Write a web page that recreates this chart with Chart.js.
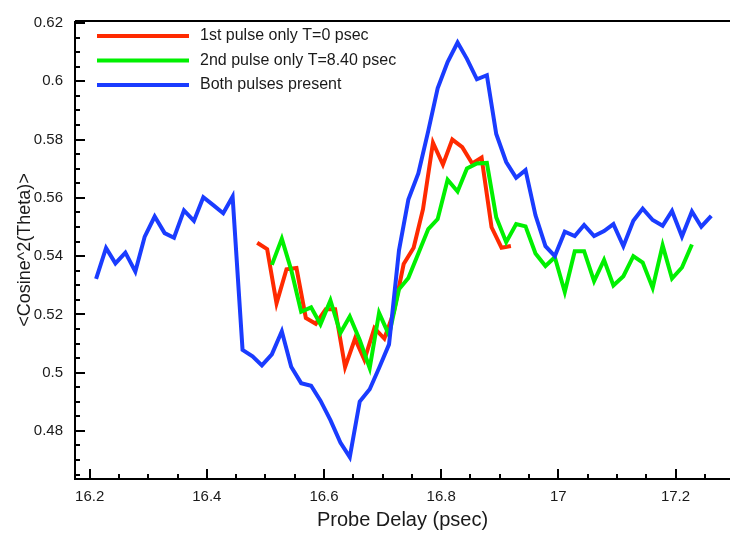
<!DOCTYPE html>
<html>
<head>
<meta charset="utf-8">
<script src="https://cdn.jsdelivr.net/npm/chart.js@4"></script>
<style>
  html, body { margin: 0; padding: 0; background: #fff; }
</style>
</head>
<body>
<canvas id="grafico" width="730" height="533"></canvas>
<script>
// probe delays (psec)
const delay = [16.211, 16.228, 16.244, 16.261, 16.278, 16.294, 16.311, 16.328, 16.344, 16.361,
               16.378, 16.394, 16.411, 16.428, 16.444, 16.461, 16.478, 16.494, 16.511, 16.528,
               16.544, 16.561, 16.578, 16.594, 16.611, 16.628, 16.644, 16.661, 16.678, 16.694,
               16.711, 16.728, 16.744, 16.761, 16.778, 16.794, 16.811, 16.828, 16.844, 16.861,
               16.878, 16.894, 16.911, 16.928, 16.944, 16.961, 16.978, 16.994, 17.011, 17.028,
               17.044, 17.061, 17.078, 17.094, 17.111, 17.128, 17.144, 17.161, 17.178, 17.194,
               17.211, 17.228, 17.244, 17.261];

const delayRed = [16.486, 16.503, 16.519, 16.536, 16.553, 16.569, 16.586, 16.603, 16.619, 16.636,
                  16.653, 16.669, 16.686, 16.703, 16.719, 16.736, 16.753, 16.769, 16.786, 16.803,
                  16.819, 16.836, 16.853, 16.869, 16.886, 16.903, 16.919];

const delayGreen = [16.511, 16.528, 16.544, 16.561, 16.578, 16.594, 16.611, 16.628, 16.644, 16.661,
                    16.678, 16.694, 16.711, 16.728, 16.744, 16.761, 16.778, 16.794, 16.811, 16.828,
                    16.844, 16.861, 16.878, 16.894, 16.911, 16.928, 16.944, 16.961, 16.978, 16.994,
                    17.011, 17.028, 17.044, 17.061, 17.078, 17.094, 17.111, 17.128, 17.144, 17.161,
                    17.178, 17.194, 17.211, 17.228];

const primerPulso = [0.5446, 0.5424, 0.5238, 0.5355, 0.5359, 0.5188, 0.5168, 0.5218, 0.5218, 0.5019,
                     0.5117, 0.5044, 0.5153, 0.5117, 0.5207, 0.5373, 0.5429, 0.5561, 0.5789, 0.5714,
                     0.5800, 0.5774, 0.5718, 0.5738, 0.5499, 0.5429, 0.5435];

const segundoPulso = [0.5370, 0.5460, 0.5353, 0.5209, 0.5224, 0.5166, 0.5248, 0.5136, 0.5193, 0.5112,
                      0.5016, 0.5205, 0.5129, 0.5286, 0.5325, 0.5409, 0.5493, 0.5527, 0.5662, 0.5622,
                      0.5701, 0.5718, 0.5720, 0.5533, 0.5448, 0.5510, 0.5502, 0.5409, 0.5366, 0.5396,
                      0.5277, 0.5417, 0.5417, 0.5314, 0.5387, 0.5299, 0.5331, 0.5400, 0.5378, 0.5291,
                      0.5437, 0.5323, 0.5361, 0.5440];

const ambosPulsos = [0.5322, 0.5428, 0.5375, 0.5412, 0.5347, 0.5467, 0.5536, 0.5479, 0.5463, 0.5557,
                     0.5521, 0.5602, 0.5575, 0.5547, 0.5604, 0.5078, 0.5056, 0.5025, 0.5063, 0.5142,
                     0.5020, 0.4964, 0.4955, 0.4904, 0.4837, 0.4760, 0.4710, 0.4901, 0.4943, 0.5016,
                     0.5097, 0.5420, 0.5594, 0.5684, 0.5830, 0.5976, 0.6066, 0.6133, 0.6077, 0.6007,
                     0.6021, 0.5819, 0.5723, 0.5669, 0.5695, 0.5540, 0.5434, 0.5400, 0.5484, 0.5469,
                     0.5507, 0.5469, 0.5486, 0.5510, 0.5434, 0.5521, 0.5563, 0.5524, 0.5504, 0.5555,
                     0.5467, 0.5553, 0.5501, 0.5538];

const etiquetas = ['1st pulse only T=0 psec', '2nd pulse only T=8.40 psec', 'Both pulses present'];

function puntos(xs, ys) {
    return xs.map((x, i) => ({ x: x, y: ys[i] }));
}

const fuente = '"Liberation Sans", Arial, Helvetica, sans-serif';
Chart.defaults.font.family = fuente;

// axes frame, inward ticks and the legend box inside the plot
const marco = {
    id: 'marco',
    afterDraw(chart) {
        const { ctx, chartArea: a, scales } = chart;
        const sx = scales.x, sy = scales.y;
        ctx.save();
        ctx.strokeStyle = '#000';
        ctx.lineWidth = 2;
        ctx.beginPath();
        ctx.moveTo(a.left, a.top); ctx.lineTo(a.right, a.top);
        ctx.moveTo(a.left, a.top); ctx.lineTo(a.left, a.bottom);
        ctx.lineTo(a.right, a.bottom);
        ctx.stroke();

        ctx.beginPath();
        for (let k = 0; k <= 22; k++) {
            const v = 16.2 + k * 0.05;
            const px = Math.round(sx.getPixelForValue(v));
            if (px > a.right) break;
            const len = k % 4 === 0 ? 10 : 5;
            ctx.moveTo(px, a.bottom); ctx.lineTo(px, a.bottom - len);
        }
        for (let k = 0; k <= 32; k++) {
            const v = 0.465 + k * 0.005;
            const py = Math.round(sy.getPixelForValue(v));
            if (py < a.top) break;
            const len = (k + 1) % 4 === 0 ? 10 : 5;
            ctx.moveTo(a.left, py); ctx.lineTo(a.left + len, py);
        }
        ctx.stroke();

        // legend
        ctx.font = '16px ' + fuente;
        ctx.textBaseline = 'middle';
        ctx.fillStyle = '#1a1a1a';
        chart.data.datasets.forEach((ds, i) => {
            const y = 36 + i * 24.5;
            ctx.strokeStyle = ds.borderColor;
            ctx.lineWidth = 4;
            ctx.beginPath();
            ctx.moveTo(97, y); ctx.lineTo(189, y);
            ctx.stroke();
            ctx.fillText(ds.label, 200, y);
        });
        ctx.restore();
    }
};

const ctx = document.getElementById('grafico').getContext('2d');

new Chart(ctx, {
    type: 'line',
    data: {
        datasets: [{
            label: etiquetas[0],
            data: puntos(delayRed, primerPulso),
            borderColor: '#ff2a00',
            order: 2
        }, {
            label: etiquetas[1],
            data: puntos(delayGreen, segundoPulso),
            borderColor: '#00f000',
            order: 1
        }, {
            label: etiquetas[2],
            data: puntos(delay, ambosPulsos),
            borderColor: '#1a3cff',
            order: 0
        }]
    },
    options: {
        responsive: false,
        animation: false,
        layout: { padding: { top: 13, right: -10, left: 0, bottom: 0 } },
        elements: {
            line: { borderWidth: 4, tension: 0, fill: false, borderJoinStyle: 'miter' },
            point: { radius: 0 }
        },
        plugins: {
            legend: { display: false },
            tooltip: { enabled: false }
        },
        scales: {
            x: {
                type: 'linear',
                min: 16.175,
                max: 17.293,
                afterFit: s => { s.height = 54; },
                grid: { display: false, drawTicks: false },
                border: { display: false },
                ticks: {
                    stepSize: 0.2,
                    includeBounds: false,
                    autoSkip: false,
                    maxRotation: 0,
                    padding: 9,
                    color: '#1a1a1a',
                    font: { size: 15 },
                    callback: v => String(Number(v.toFixed(1)))
                },
                title: {
                    display: true,
                    text: 'Probe Delay (psec)',
                    color: '#1a1a1a',
                    font: { size: 20 },
                    padding: { top: 0, bottom: 1 }
                }
            },
            y: {
                min: 0.4635,
                max: 0.6207,
                afterFit: s => { s.width = 75; },
                grid: { display: false, drawTicks: false },
                border: { display: false },
                ticks: {
                    stepSize: 0.02,
                    includeBounds: false,
                    padding: 12,
                    color: '#1a1a1a',
                    font: { size: 15 },
                    callback: v => String(Number(v.toFixed(2)))
                },
                title: {
                    display: true,
                    text: '<Cosine^2(Theta)>',
                    color: '#1a1a1a',
                    font: { size: 18 },
                    padding: { top: 14, bottom: 0 }
                }
            }
        }
    },
    plugins: [marco]
});
</script>
</body>
</html>
